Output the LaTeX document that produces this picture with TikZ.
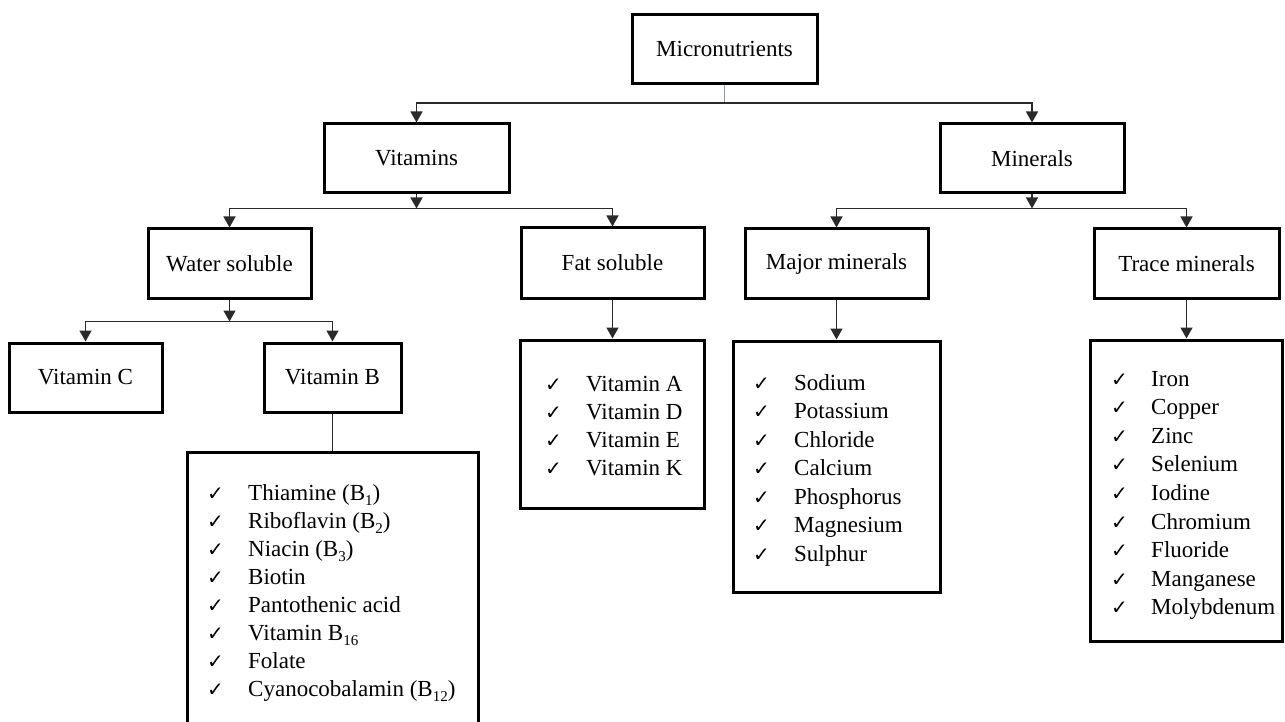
\documentclass[tikz,border=0pt]{standalone}
\usepackage{fontspec}
\setmainfont{Liberation Serif}
\newfontfamily\symfont{DejaVu Sans}
\usetikzlibrary{arrows.meta}
\definecolor{connc}{HTML}{2A2A2A}
\definecolor{stemc}{HTML}{8A9BB0}
\newcommand{\lowsub}[1]{\raisebox{-0.55ex}{\fontsize{15}{18}\selectfont #1}}
\begin{document}
\begin{tikzpicture}[x=1pt,y=-1pt,
  box/.style={draw=black,line width=3pt,rectangle,inner sep=0pt,font=\fontsize{23}{28}\selectfont},
  conn/.style={draw=connc,line width=1.4pt},
  thinconn/.style={draw=connc,line width=1pt},
  stem/.style={draw=stemc,line width=1.2pt},
  arr/.style={conn,-{Triangle[length=11pt,width=12pt]}},
  item/.style={anchor=base west,inner sep=0pt,font=\fontsize{23}{28}\selectfont},
  chk/.style={anchor=base west,inner sep=0pt,font=\symfont\fontsize{20}{24}\selectfont}]
\useasboundingbox (0,0) rectangle (1285,722);

% main boxes
\node[box,minimum width=185pt,minimum height=69pt] (micro) at (724.5,49.5) {Micronutrients};
\node[box,minimum width=185pt,minimum height=69pt] (vit) at (416.5,158.5) {Vitamins};
\node[box,minimum width=184pt,minimum height=69pt] (min) at (1032,158.5) {Minerals};
\node[box,minimum width=163pt,minimum height=69pt] (water) at (229.5,263.5) {Water soluble};
\node[box,minimum width=183pt,minimum height=70pt] (fat) at (612.5,263) {Fat soluble};
\node[box,minimum width=183pt,minimum height=69pt] (major) at (836.5,263.5) {Major minerals};
\node[box,minimum width=185pt,minimum height=69pt] (trace) at (1186.5,263.5) {Trace minerals};
\node[box,minimum width=153pt,minimum height=69pt] (vc) at (85.5,377.5) {Vitamin C};
\node[box,minimum width=137pt,minimum height=69pt] (vb) at (332.5,377.5) {Vitamin B};

% list boxes
\node[box,minimum width=291pt,minimum height=278pt] (vblist) at (332.5,591) {};
\node[box,minimum width=184pt,minimum height=168pt] (fatlist) at (612.5,424) {};
\node[box,minimum width=207pt,minimum height=251pt] (majorlist) at (836.5,466.5) {};
\node[box,minimum width=192pt,minimum height=301pt] (tracelist) at (1186.5,490.5) {};

% connectors
\coordinate (b0) at (micro.south |- 0,103);
\draw[stem] (micro.south) -- (b0);
\draw[arr] (b0) -| (vit.north);
\draw[arr] (b0) -| (min.north);

\path (vit.south) ++(0,14) coordinate (b1);
\draw[arr] (vit.south) -- (b1);
\draw[arr] (b1) -| (water.north);
\draw[arr] (b1) -| (fat.north);

\path (min.south) ++(0,14) coordinate (b2);
\draw[arr] (min.south) -- (b2);
\draw[arr] (b2) -| (major.north);
\draw[arr] (b2) -| (trace.north);

\path (water.south) ++(0,22) coordinate (b3);
\draw[arr] (water.south) -- (b3);
\draw[arr] (b3) -| (vc.north);
\draw[arr] (b3) -| (vb.north);

\draw[thinconn] (vb.south) -- (vblist.north);
\draw[arr] (fat.south) -- (fatlist.north);
\draw[arr] (major.south) -- (majorlist.north);
\draw[arr] (trace.south) -- (tracelist.north);

% list items
\foreach \t [count=\i from 0] in {{Thiamine (B\lowsub{1})},{Riboflavin (B\lowsub{2})},{Niacin (B\lowsub{3})},{Biotin},{Pantothenic acid},{Vitamin B\lowsub{16}},{Folate},{Cyanocobalamin (B\lowsub{12})}}{
  \node[chk] (vbc\i) at (207,{500+28*\i}) {✓};
  \node[item] (vbi\i) at (248,{500+28*\i}) {\t};
}
\foreach \t [count=\i from 0] in {Vitamin A,Vitamin D,Vitamin E,Vitamin K}{
  \node[chk] (fc\i) at (545,{391+28.3*\i}) {✓};
  \node[item] (fi\i) at (586,{391+28.3*\i}) {\t};
}
\foreach \t [count=\i from 0] in {Sodium,Potassium,Chloride,Calcium,Phosphorus,Magnesium,Sulphur}{
  \node[chk] (mc\i) at (753,{390+28.5*\i}) {✓};
  \node[item] (mi\i) at (794,{390+28.5*\i}) {\t};
}
\foreach \t [count=\i from 0] in {Iron,Copper,Zinc,Selenium,Iodine,Chromium,Fluoride,Manganese,Molybdenum}{
  \node[chk] (tc\i) at (1111,{386+28.6*\i}) {✓};
  \node[item] (ti\i) at (1151,{386+28.6*\i}) {\t};
}
\end{tikzpicture}
\end{document}
